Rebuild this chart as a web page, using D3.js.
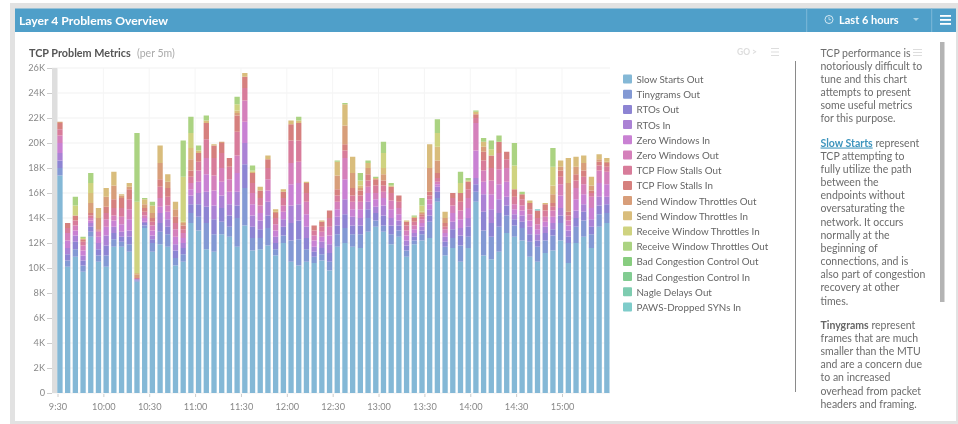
<!DOCTYPE html>
<html>
<head>
<meta charset="utf-8">
<script src="https://cdn.jsdelivr.net/npm/d3@7"></script>
<style>
html, body { margin: 0; padding: 0; background: #fff; overflow: hidden; }
svg { display: block; font-family: Lato, sans-serif; filter: blur(0.45px); }
</style>
</head>
<body>
<svg id="chart" width="958" height="424"></svg>
<script>
// Values are in thousands, one per 5 minute bucket starting at 9:30
var slow = [17.4,10.1,10.9,9.7,12.5,10.5, 10.1,11.7,11.7,11.3,8.9,13.2, 11.3,11.9,11.7,10.2,10.5,13.6, 13.0,11.5,11.3,12.7,12.5,11.7,
    13.4,11.4,11.5,11.8,11.0,12.0, 10.5,10.2,10.5,10.4,10.6,9.8, 11.7,12.0,11.7,11.6,12.9,13.3, 12.9,11.9,12.5,10.9,11.9,12.2,
    12.4,15.3,11.0,11.6,10.5,11.6, 15.3,11.0,10.7,11.3,12.8,12.5, 12.2,10.9,10.5,11.2,11.4,12.2, 10.4,12.0,12.5,11.6,13.3,13.6]
var tiny = [.6,.5,.6,.5,.4,.5, .9,.6,.4,.6,.1,.2, .7,1.0,1.0,.6,.6,.8, 1.1,2.1,1.4,1.0,.8,2.3,
    3.0,1.0,.9,1.4,.5,.6, 1.7,2.1,1.0,.5,.5,.7, 1.0,1.2,1.0,1.1,1.1,.5, .5,.8,.5,.5,.3,.5,
    1.3,.3,.7,.8,1.3,.9, .8,2.0,1.8,2.0,1.4,.9, 1.0,1.2,1.2,1.0,1.2,1.4, 1.6,1.3,1.3,1.1,1.0,.8]
var rtoOut = [.6,.5,.6,.4,.4,.5, .8,.5,.4,.6,.1,.2, .3,.7,.6,.6,.5,.7, 1.0,1.3,1.2,1.1,.9,1.0,
    1.9,.9,.7,1.0,.5,.7, 1.4,1.5,.9,.4,.5,.7, .7,1.1,.7,.7,.7,.6, .8,.7,.4,.4,.3,.3,
    .5,.5,.4,.7,.8,.8, .6,1.5,1.1,1.1,.8,.5, .5,.6,.5,.6,.5,.6, .5,.7,.7,.6,.7,.7]
var rtoIn = [.6,.5,.5,.4,.3,.5, .8,.5,.4,.5,0,.1, .3,.8,.6,.5,.4,.7, .9,1.2,1.1,1.0,.9,1.1,
    1.7,.9,.7,1.1,.5,.6, 1.4,1.3,.9,.4,.5,.7, .7,1.2,.7,.6,.6,.5, .8,.6,.4,.4,.3,.3,
    .5,.4,.4,.6,.6,.7, .5,1.4,1.1,1.1,.7,.4, .5,.6,.5,.5,.5,.6, .5,.6,.6,.6,.7,.6]
var zeroIn = [.8,.6,.4,.4,.2,.5, .7,.5,.6,.9,0,.3, .4,.5,.6,.6,.4,.5, .9,1.4,1.2,1.1,1.0,1.5,
    1.7,.9,.6,.9,.5,.6, 1.7,1.7,1,.5,.4,.7, .6,1.6,.6,.7,.7,.6, .6,.7,.5,.4,.3,.3,
    .4,.2,.3,.7,.7,.8, 2.2,1.0,1.2,1.2,1.2,.4, .4,.5,.4,.4,.5,1.0, .4,.9,.8,.9,1.1,1.0]
var zeroOut = [.6,.6,.4,.4,.2,.4, .6,.4,.6,.8,0,.2, .4,.7,.5,.6,.4,.5, .9,1.3,1.2,1.1,1.0,1.4,
    1.7,.9,.6,.9,.5,.5, 1.7,1.7,1,.4,.4,.7, .6,1.7,.6,.6,.5,.5, .5,.7,.5,.4,.3,.3,
    .4,.2,.3,.6,.7,.8, 2.2,.9,1.1,1.2,1.1,.4, .4,.5,.4,.4,.5,.9, .4,.9,.8,.9,1.0,1.0]
var stallOut = [.5,.4,.4,.3,.2,.1, .5,.6,.7,.8,.1,.3, .3,.9,.7,.5,.3,.5, .7,1.5,1.4,1.2,1.0,1.9,
    1.0,.8,.6,.9,.5,.6, 1.8,1.7,.7,.4,.4,.7, .5,.6,.5,.5,.5,.6, .5,.6,.5,.4,.3,.2,
    .3,.3,.2,.6,.7,.7, .4,.8,1.0,1.3,.7,.6, .5,.4,.5,.5,.3,.6, .4,.6,.6,.3,.4,.4]
var stallIn = [.5,.4,.4,.2,.2,.1, .5,.7,.8,.8,0,.3, .3,.6,.7,.5,.3,.5, .7,1.3,1.0,.8,.7,1.3,
    .9,.8,.6,.7,.4,.5, 1.3,1.4,.8,.4,.4,.6, .5,.5,.6,.4,.5,.5, .4,.5,.5,.3,.3,.2,
    .3,.4,.3,.4,.7,.6, .3,.7,1.0,.9,.6,.6, .4,.5,.6,.5,.3,.5, .3,.5,.5,.2,.3,.3]
var sendOut = [.1,0,0,0,.8,.9, .8,1.1,.2,.2,.3,.3, .4,1.3,.5,.6,.2,.9, 0,0,0,.1,0,.2,
    0,0,0,0,.1,0, 0,0,0,0,0,0, 1.1,1.5,1.2,.2,.5,0, .5,0,0,0,0,.1,
    1.9,1.0,.4,0,0,0, 0,.4,0,0,0,0, 0,0,0,0,.7,.3, 2.3,.6,.6,.4,.2,.1]
var sendIn = [0,0,0,0,.8,.8, .7,1.1,.1,.3,.1,.4, .6,1.4,.6,.6,.1,.9, .2,.2,.1,0,0,.2,
    .3,.1,.3,.3,.2,.2, .3,.2,.1,0,.1,0, 1.1,1.7,1.3,.2,.4,.1, .5,.1,0,.1,.1,.1,
    1.9,1.1,.5,0,0,.1, .2,.4,0,0,0,0, 0,.2,0,.1,.7,.5, 2.0,.8,.6,.7,.4,.3]
var recvIn = [0,0,.8,.1,.8,0, 0,0,0,0,5.7,0, 0,0,0,0,3.6,1.2, 0,0,0,0,0,.5,
    0,.1,0,0,0,0, 0,0,0,0,0,0, 0,0,0,.4,0,0, 1.2,0,0,0,0,.5,
    0,1.1,0,0,.8,0, 0,0,.5,0,0,1.9, 0,0,0,0,1.5,0, 0,0,0,0,0,0]
var recvOut = [0,0,.7,.1,.8,0, 0,0,0,0,5.5,.1, .3,0,0,0,2.9,1.3, .4,.4,0,0,0,.6,
    0,.4,0,0,0,0, 0,.3,0,0,0,0, .1,.1,0,.6,.2,.1, .9,.2,0,0,.1,.6,
    0,1.1,0,0,.9,.2, .1,.3,.7,.5,0,1.8, .2,0,0,0,1.5,0, 0,0,0,0,0,0]
var badOut = [0,0,0,0,0,0, 0,0,0,0,0,0, 0,0,0,0,0,0, 0,0,0,0,0,0,
    0,0,0,0,0,0, 0,0,0,0,0,0, 0,0,0,0,0,0, 0,0,0,0,0,0,
    0,0,0,0,0,0, 0,0,0,0,0,0, 0,0,0,0,0,0, 0,0,0,0,0,0]
var badIn = [0,0,0,0,0,0, 0,0,0,0,0,0, 0,0,0,0,0,0, 0,0,0,0,0,0,
    0,0,0,0,0,0, 0,0,0,0,0,0, 0,0,0,0,0,0, 0,0,0,0,0,0,
    0,0,0,0,0,0, 0,0,0,0,0,0, 0,0,0,0,0,0, 0,0,0,0,0,0]
var nagle = [0,0,0,0,0,0, 0,0,0,0,0,0, 0,0,0,0,0,0, 0,0,0,0,0,0,
    0,0,0,0,0,0, 0,0,0,0,0,0, 0,0,0,0,0,0, 0,0,0,0,0,0,
    0,0,0,0,0,0, 0,0,0,0,0,0, 0,0,0,0,0,0, 0,0,0,0,0,0]
var paws = [0,0,0,0,0,0, 0,0,0,0,0,0, 0,0,0,0,0,0, 0,0,0,0,0,0,
    0,0,0,0,0,0, 0,0,0,0,0,0, 0,0,0,0,0,0, 0,0,0,0,0,0,
    0,0,0,0,0,0, 0,0,0,0,0,0, 0,0,.1,0,0,0, 0,0,0,0,0,0]

var seriesNames = ["Slow Starts Out","Tinygrams Out","RTOs Out","RTOs In","Zero Windows In","Zero Windows Out",
    "TCP Flow Stalls Out","TCP Flow Stalls In","Send Window Throttles Out","Send Window Throttles In",
    "Receive Window Throttles In","Receive Window Throttles Out","Bad Congestion Control Out",
    "Bad Congestion Control In","Nagle Delays Out","PAWS-Dropped SYNs In"]
var seriesValues = [slow,tiny,rtoOut,rtoIn,zeroIn,zeroOut,stallOut,stallIn,sendOut,sendIn,recvIn,recvOut,badOut,badIn,nagle,paws]
var seriesColors = ["#84b8d6","#8399d4","#8d84d3","#ab82d5","#c981d3","#d580bb","#d87c9a","#d6807e",
    "#d89e7a","#d9bd7c","#cfd380","#abd382","#88cd80","#82cc92","#7eccb0","#7eccca"]
var yTicks = [0,2,4,6,8,10,12,14,16,18,20,22,24,26]
var timeLabels = ["9:30","10:00","10:30","11:00","11:30","12:00","12:30","13:00","13:30","14:00","14:30","15:00"]

var sideText = [
    ["TCP performance is","notoriously difficult to","tune and this chart","attempts to present","some useful metrics","for this purpose."],
    ["Slow Starts| represent","TCP attempting to","fully utilize the path","between the","endpoints without","oversaturating the","network. It occurs","normally at the","beginning of","connections, and is","also part of congestion","recovery at other","times."],
    ["Tinygrams| represent","frames that are much","smaller than the MTU","and are a concern due","to an increased","overhead from packet","headers and framing."]
]

var svg = d3.select("#chart")

// Page frame and header
svg.append("rect").attr("x", 10).attr("y", 3).attr("width", 948).attr("height", 421).attr("fill", "#e2e2e2")
svg.append("rect").attr("x", 15).attr("y", 32).attr("width", 941).attr("height", 389).attr("fill", "#fff")
svg.append("rect").attr("x", 15).attr("y", 8.5).attr("width", 941).attr("height", 23.5).attr("fill", "#4f9fc9")
svg.selectAll(".hdiv").data([806.7, 931.7]).enter().append("line")
    .attr("x1", d => d).attr("x2", d => d).attr("y1", 8.5).attr("y2", 32)
    .attr("stroke", "#7db8d8")

svg.append("text").attr("x", 19).attr("y", 24.5).attr("fill", "#fff")
    .attr("font-size", 12.2).attr("font-weight", 700).text("Layer 4 Problems Overview")
svg.append("text").attr("x", 839).attr("y", 23.5).attr("fill", "#fff")
    .attr("font-size", 11).attr("font-weight", 700).text("Last 6 hours")

// Clock, caret and menu icons
svg.append("circle").attr("cx", 829).attr("cy", 19.5).attr("r", 4).attr("fill", "none").attr("stroke", "#d6e9f3")
svg.append("path").attr("d", "M829 17V19.7H831").attr("fill", "none").attr("stroke", "#d6e9f3").attr("stroke-width", 0.8)
svg.append("path").attr("d", "M913 18H919L916 21Z").attr("fill", "#a9d3e8")
svg.selectAll(".hm").data([16, 20, 24]).enter().append("rect")
    .attr("x", 940).attr("y", d => d - 1).attr("width", 11).attr("height", 1.8).attr("fill", "#fff")

// Chart title row
svg.append("text").attr("x", 29).attr("y", 57).attr("fill", "#555")
    .attr("font-size", 10.8).attr("font-weight", 700).text("TCP Problem Metrics")
svg.append("text").attr("x", 137).attr("y", 57).attr("fill", "#aaa")
    .attr("font-size", 10.5).text("(per 5m)")
svg.append("text").attr("x", 737).attr("y", 55).attr("fill", "#ddd")
    .attr("font-size", 8.5).attr("font-weight", 700).text("GO >")
svg.selectAll(".m1").data([48, 51.5, 55]).enter().append("rect")
    .attr("x", 771).attr("y", d => d).attr("width", 8).attr("height", 1).attr("fill", "#ddd")
svg.selectAll(".m2").data([49, 52, 55]).enter().append("rect")
    .attr("x", 913).attr("y", d => d).attr("width", 9).attr("height", 1).attr("fill", "#ddd")

// Scales
var y = d3.scaleLinear().domain([0, 26]).range([393, 68])
var x = d3.scaleBand().domain(d3.range(slow.length)).range([57.3, 609.5]).paddingInner(0.31).paddingOuter(0).align(0)
var tickX = d3.scalePoint().domain(timeLabels).range([57.5, 562])

// Gridlines
var grid = svg.append("g")
grid.selectAll(".gy").data(yTicks).enter().append("line")
    .attr("x1", 52).attr("x2", 610).attr("y1", d => y(d)).attr("y2", d => y(d))
    .attr("stroke", "#f1f1f1")
grid.selectAll(".gx").data(timeLabels).enter().append("line")
    .attr("x1", d => tickX(d)).attr("x2", d => tickX(d)).attr("y1", 68).attr("y2", 393)
    .attr("stroke", "#f5f5f5")
svg.append("rect").attr("x", 52).attr("y", 68).attr("width", 5.3).attr("height", 325).attr("fill", "#dedede")

// Stacked bars
var rows = slow.map((_, i) => {
    var row = { index: i }
    seriesNames.forEach((name, s) => { row[name] = seriesValues[s][i] })
    return row
})
var stack = d3.stack().keys(seriesNames)(rows)

svg.append("g").selectAll("g").data(stack).enter().append("g")
    .attr("fill", (d, i) => seriesColors[i])
    .selectAll("rect").data(d => d).enter().append("rect")
    .attr("x", d => x(d.data.index))
    .attr("width", x.bandwidth())
    .attr("y", d => y(d[1]))
    .attr("height", d => y(d[0]) - y(d[1]))

// Axes
var yAxis = svg.append("g").attr("transform", "translate(52,0)")
    .call(d3.axisLeft(y).tickValues(yTicks).tickFormat(d => d === 0 ? "0" : d + "K").tickSize(5).tickPadding(2))
var xAxis = svg.append("g").attr("transform", "translate(0,394)")
    .call(d3.axisBottom(tickX).tickSize(3).tickPadding(6))
yAxis.select(".domain").remove()
xAxis.select(".domain").remove()
svg.selectAll(".tick line").attr("stroke", "#ccc")
svg.selectAll(".tick text").attr("fill", "#888").attr("font-size", 9.2).attr("font-family", "Lato, sans-serif")

// Legend
var legend = svg.append("g").selectAll("g").data(seriesNames).enter().append("g")
    .attr("transform", (d, i) => "translate(623," + (74.5 + i * 15.2) + ")")
legend.append("rect").attr("width", 9).attr("height", 9).attr("rx", 1).attr("fill", (d, i) => seriesColors[i])
legend.append("text").attr("x", 13.5).attr("y", 8.5).attr("fill", "#666")
    .attr("font-size", 9.8).text(d => d)

// Divider, description text and scrollbar
svg.append("line").attr("x1", 795.5).attr("x2", 795.5).attr("y1", 61).attr("y2", 392).attr("stroke", "#8a8a8a")
svg.append("rect").attr("x", 940).attr("y", 42).attr("width", 4.5).attr("height", 260).attr("fill", "#b4b4b4")

var textY = 56.5
sideText.forEach(block => {
    block.forEach(line => {
        var t = svg.append("text").attr("x", 820.5).attr("y", textY).attr("font-size", 10.5).attr("fill", "#6c6c6c")
        var parts = line.split("|")
        if (parts.length > 1) {
            var link = parts[0] == "Slow Starts"
            t.append("tspan").attr("font-weight", 700).attr("fill", link ? "#3d94bd" : "#666")
                .attr("text-decoration", link ? "underline" : "none").text(parts[0])
            t.append("tspan").text(parts[1])
        } else {
            t.text(line)
        }
        textY += 13.17
    })
    textY += 11
})
</script>
</body>
</html>
